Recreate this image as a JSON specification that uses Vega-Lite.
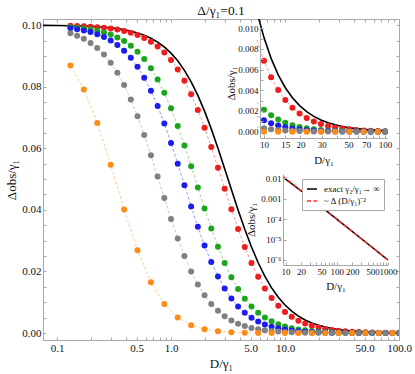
{
  "$schema": "https://vega.github.io/schema/vega-lite/v6.json",
  "width": 356,
  "height": 321,
  "autosize": {"type": "none"},
  "padding": {"left": 43, "top": 19, "right": 16, "bottom": 34},
  "background": "white",
  "title": {"text": "Δ/γ₁=0.1", "fontSize": 13.5, "font": "Liberation Serif", "fontWeight": "normal", "offset": 1, "color": "#111111", "anchor": "middle"},
  "config": {
    "font": "Liberation Serif",
    "view": {"stroke": "#a8a8a8"},
    "axis": {"labelFont": "Liberation Serif", "titleFont": "Liberation Serif", "labelColor": "#111111", "titleColor": "#111111", "titleFontWeight": "normal", "domainColor": "#a8a8a8", "tickColor": "#a8a8a8", "grid": false, "labelFlush": false, "labelOverlap": false},
    "legend": {"labelFont": "Liberation Serif", "labelColor": "#111111"}
  },
  "datasets": {
    "pts": [
      {"s":"inf","D":0.0753,"v":0.09994},{"s":"inf","D":0.1,"v":0.0999},
      {"s":"inf","D":0.1311,"v":0.09983},{"s":"inf","D":0.1501,"v":0.09978},{"s":"inf","D":0.1719,"v":0.09971},{"s":"inf","D":0.1968,"v":0.09961},{"s":"inf","D":0.2254,"v":0.0995},{"s":"inf","D":0.2581,"v":0.09934},{"s":"inf","D":0.2955,"v":0.09913},{"s":"inf","D":0.3384,"v":0.09887},{"s":"inf","D":0.3875,"v":0.09852},{"s":"inf","D":0.4437,"v":0.09807},
      {"s":"inf","D":0.508,"v":0.09748},{"s":"inf","D":0.5817,"v":0.09673},{"s":"inf","D":0.6661,"v":0.09575},{"s":"inf","D":0.7627,"v":0.0945},{"s":"inf","D":0.8733,"v":0.09291},{"s":"inf","D":1,"v":0.09091},{"s":"inf","D":1.145,"v":0.08841},{"s":"inf","D":1.311,"v":0.08533},{"s":"inf","D":1.501,"v":0.08161},{"s":"inf","D":1.719,"v":0.07719},
      {"s":"inf","D":1.968,"v":0.07207},{"s":"inf","D":2.254,"v":0.06631},{"s":"inf","D":2.581,"v":0.06002},{"s":"inf","D":2.955,"v":0.05338},{"s":"inf","D":3.384,"v":0.04662},{"s":"inf","D":3.875,"v":0.03998},{"s":"inf","D":4.437,"v":0.03369},{"s":"inf","D":5.08,"v":0.02793},{"s":"inf","D":5.817,"v":0.02281},{"s":"inf","D":6.661,"v":0.01839},
      {"s":"inf","D":7.627,"v":0.01467},{"s":"inf","D":8.733,"v":0.01159},{"s":"inf","D":10,"v":0.009091},{"s":"inf","D":11.45,"v":0.007087},{"s":"inf","D":13.11,"v":0.005497},{"s":"inf","D":15.01,"v":0.004248},{"s":"inf","D":17.19,"v":0.003273},{"s":"inf","D":19.68,"v":0.002516},{"s":"inf","D":22.54,"v":0.00193},{"s":"inf","D":25.81,"v":0.001479},
      {"s":"inf","D":29.55,"v":0.001132},{"s":"inf","D":33.84,"v":0.0008658},{"s":"inf","D":38.75,"v":0.0006617},{"s":"inf","D":44.37,"v":0.0005055},{"s":"inf","D":50.8,"v":0.000386},{"s":"inf","D":58.17,"v":0.0002947},{"s":"inf","D":66.61,"v":0.0002249},{"s":"inf","D":76.27,"v":0.0001716},{"s":"inf","D":87.33,"v":0.0001309},{"s":"inf","D":100,"v":0.0000999},

      {"s":"100","D":0.1311,"v":0.09978},{"s":"100","D":0.1501,"v":0.09971},{"s":"100","D":0.1719,"v":0.09963},{"s":"100","D":0.1968,"v":0.09951},{"s":"100","D":0.2254,"v":0.09936},{"s":"100","D":0.2581,"v":0.09916},{"s":"100","D":0.2955,"v":0.0989},{"s":"100","D":0.3384,"v":0.09856},{"s":"100","D":0.3875,"v":0.09812},{"s":"100","D":0.4437,"v":0.09755},
      {"s":"100","D":0.508,"v":0.09682},{"s":"100","D":0.5817,"v":0.09586},{"s":"100","D":0.6661,"v":0.09464},{"s":"100","D":0.7627,"v":0.09309},{"s":"100","D":0.8733,"v":0.09112},{"s":"100","D":1,"v":0.08866},{"s":"100","D":1.145,"v":0.08563},{"s":"100","D":1.311,"v":0.08194},{"s":"100","D":1.501,"v":0.07756},{"s":"100","D":1.719,"v":0.07247},
      {"s":"100","D":1.968,"v":0.06671},{"s":"100","D":2.254,"v":0.06041},{"s":"100","D":2.581,"v":0.05372},{"s":"100","D":2.955,"v":0.0469},{"s":"100","D":3.384,"v":0.04018},{"s":"100","D":3.875,"v":0.0338},{"s":"100","D":4.437,"v":0.02795},{"s":"100","D":5.08,"v":0.02275},{"s":"100","D":5.817,"v":0.01827},{"s":"100","D":6.661,"v":0.01449},
      {"s":"100","D":7.627,"v":0.01138},{"s":"100","D":8.733,"v":0.008861},{"s":"100","D":10,"v":0.006849},{"s":"100","D":11.45,"v":0.005263},{"s":"100","D":13.11,"v":0.004022},{"s":"100","D":15.01,"v":0.003061},{"s":"100","D":17.19,"v":0.00232},{"s":"100","D":19.68,"v":0.001752},{"s":"100","D":22.54,"v":0.001319},{"s":"100","D":25.81,"v":0.0009895},
      {"s":"100","D":29.55,"v":0.00074},{"s":"100","D":33.84,"v":0.0005516},{"s":"100","D":38.75,"v":0.0004098},{"s":"100","D":44.37,"v":0.0003034},{"s":"100","D":50.8,"v":0.0002238},{"s":"100","D":58.17,"v":0.0001645},{"s":"100","D":66.61,"v":0.0001204},{"s":"100","D":76.27,"v":0.0000878},{"s":"100","D":87.33,"v":0.0000637},{"s":"100","D":100,"v":0.0000461},

      {"s":"10","D":0.1311,"v":0.09938},{"s":"10","D":0.1501,"v":0.09919},{"s":"10","D":0.1719,"v":0.09894},{"s":"10","D":0.1968,"v":0.09862},{"s":"10","D":0.2254,"v":0.09819},{"s":"10","D":0.2581,"v":0.09764},{"s":"10","D":0.2955,"v":0.09693},{"s":"10","D":0.3384,"v":0.09601},{"s":"10","D":0.3875,"v":0.09482},{"s":"10","D":0.4437,"v":0.09331},
      {"s":"10","D":0.508,"v":0.09139},{"s":"10","D":0.5817,"v":0.08899},{"s":"10","D":0.6661,"v":0.08601},{"s":"10","D":0.7627,"v":0.08238},{"s":"10","D":0.8733,"v":0.07805},{"s":"10","D":1,"v":0.07299},{"s":"10","D":1.145,"v":0.06725},{"s":"10","D":1.311,"v":0.06092},{"s":"10","D":1.501,"v":0.05419},{"s":"10","D":1.719,"v":0.04729},
      {"s":"10","D":1.968,"v":0.04047},{"s":"10","D":2.254,"v":0.03398},{"s":"10","D":2.581,"v":0.02801},{"s":"10","D":2.955,"v":0.02272},{"s":"10","D":3.384,"v":0.01815},{"s":"10","D":3.875,"v":0.01431},{"s":"10","D":4.437,"v":0.01116},{"s":"10","D":5.08,"v":0.008619},{"s":"10","D":5.817,"v":0.006601},{"s":"10","D":6.661,"v":0.005018},
      {"s":"10","D":7.627,"v":0.003791},{"s":"10","D":8.733,"v":0.002848},{"s":"10","D":10,"v":0.002128},{"s":"10","D":11.45,"v":0.001582},{"s":"10","D":13.11,"v":0.001171},{"s":"10","D":15.01,"v":0.0008622},{"s":"10","D":17.19,"v":0.0006322},{"s":"10","D":19.68,"v":0.0004613},{"s":"10","D":22.54,"v":0.0003351},{"s":"10","D":25.81,"v":0.0002423},
      {"s":"10","D":29.55,"v":0.0001744},{"s":"10","D":33.84,"v":0.0001249},{"s":"10","D":38.75,"v":0.000089},{"s":"10","D":44.37,"v":0.0000632},{"s":"10","D":50.8,"v":0.0000446},{"s":"10","D":58.17,"v":0.0000314},{"s":"10","D":66.61,"v":0.000022},{"s":"10","D":76.27,"v":0.0000153},{"s":"10","D":87.33,"v":0.0000106},{"s":"10","D":100,"v":0.0000074},

      {"s":"5","D":0.1311,"v":0.09899},{"s":"5","D":0.1501,"v":0.09868},{"s":"5","D":0.1719,"v":0.09827},{"s":"5","D":0.1968,"v":0.09774},{"s":"5","D":0.2254,"v":0.09706},{"s":"5","D":0.2581,"v":0.09617},{"s":"5","D":0.2955,"v":0.09503},{"s":"5","D":0.3384,"v":0.09357},{"s":"5","D":0.3875,"v":0.09172},{"s":"5","D":0.4437,"v":0.08939},
      {"s":"5","D":0.508,"v":0.08649},{"s":"5","D":0.5817,"v":0.08295},{"s":"5","D":0.6661,"v":0.0787},{"s":"5","D":0.7627,"v":0.07372},{"s":"5","D":0.8733,"v":0.06803},{"s":"5","D":1,"v":0.06173},{"s":"5","D":1.145,"v":0.05499},{"s":"5","D":1.311,"v":0.04803},{"s":"5","D":1.501,"v":0.04113},{"s":"5","D":1.719,"v":0.03453},
      {"s":"5","D":1.968,"v":0.02845},{"s":"5","D":2.254,"v":0.02304},{"s":"5","D":2.581,"v":0.01836},{"s":"5","D":2.955,"v":0.01444},{"s":"5","D":3.384,"v":0.01121},{"s":"5","D":3.875,"v":0.008619},{"s":"5","D":4.437,"v":0.006564},{"s":"5","D":5.08,"v":0.00496},{"s":"5","D":5.817,"v":0.003722},{"s":"5","D":6.661,"v":0.002775},
      {"s":"5","D":7.627,"v":0.002056},{"s":"5","D":8.733,"v":0.001516},{"s":"5","D":10,"v":0.001111},{"s":"5","D":11.45,"v":0.0008104},{"s":"5","D":13.11,"v":0.0005881},{"s":"5","D":15.01,"v":0.0004246},{"s":"5","D":17.19,"v":0.0003051},{"s":"5","D":19.68,"v":0.0002182},{"s":"5","D":22.54,"v":0.0001552},{"s":"5","D":25.81,"v":0.0001099},
      {"s":"5","D":29.55,"v":0.0000775},{"s":"5","D":33.84,"v":0.0000544},{"s":"5","D":38.75,"v":0.000038},{"s":"5","D":44.37,"v":0.0000264},{"s":"5","D":50.8,"v":0.0000183},{"s":"5","D":58.17,"v":0.0000127},{"s":"5","D":66.61,"v":0.0000087},{"s":"5","D":76.27,"v":0.000006},{"s":"5","D":87.33,"v":0.0000041},{"s":"5","D":100,"v":0.0000028},

      {"s":"2","D":0.1311,"v":0.09737},{"s":"2","D":0.1501,"v":0.09658},{"s":"2","D":0.1719,"v":0.09555},{"s":"2","D":0.1968,"v":0.09423},{"s":"2","D":0.2254,"v":0.09255},{"s":"2","D":0.2581,"v":0.09043},{"s":"2","D":0.2955,"v":0.08778},{"s":"2","D":0.3384,"v":0.08451},{"s":"2","D":0.3875,"v":0.08055},{"s":"2","D":0.4437,"v":0.07586},
      {"s":"2","D":0.508,"v":0.07044},{"s":"2","D":0.5817,"v":0.06435},{"s":"2","D":0.6661,"v":0.05774},{"s":"2","D":0.7627,"v":0.05081},{"s":"2","D":0.8733,"v":0.04382},{"s":"2","D":1,"v":0.03704},{"s":"2","D":1.145,"v":0.0307},{"s":"2","D":1.311,"v":0.02498},{"s":"2","D":1.501,"v":0.02},{"s":"2","D":1.719,"v":0.01577},
      {"s":"2","D":1.968,"v":0.01227},{"s":"2","D":2.254,"v":0.009441},{"s":"2","D":2.581,"v":0.007193},{"s":"2","D":2.955,"v":0.005433},{"s":"2","D":3.384,"v":0.004072},{"s":"2","D":3.875,"v":0.003031},{"s":"2","D":4.437,"v":0.002242},{"s":"2","D":5.08,"v":0.001648},{"s":"2","D":5.817,"v":0.001205},{"s":"2","D":6.661,"v":0.0008765},
      {"s":"2","D":7.627,"v":0.0006341},{"s":"2","D":8.733,"v":0.0004564},{"s":"2","D":10,"v":0.0003268},{"s":"2","D":11.45,"v":0.0002329},{"s":"2","D":13.11,"v":0.0001651},{"s":"2","D":15.01,"v":0.0001166},{"s":"2","D":17.19,"v":0.0000819},{"s":"2","D":19.68,"v":0.0000573},{"s":"2","D":22.54,"v":0.0000399},{"s":"2","D":25.81,"v":0.0000277},
      {"s":"2","D":29.55,"v":0.0000191},{"s":"2","D":33.84,"v":0.0000132},{"s":"2","D":38.75,"v":0.000009},{"s":"2","D":44.37,"v":0.0000062},{"s":"2","D":50.8,"v":0.0000042},{"s":"2","D":58.17,"v":0.0000029},{"s":"2","D":66.61,"v":0.000002},{"s":"2","D":76.27,"v":0.0000013},{"s":"2","D":87.33,"v":0.0000009},{"s":"2","D":100,"v":0.0000006},

      {"s":"0.5","D":0.1311,"v":0.08693},{"s":"0.5","D":0.1719,"v":0.07913},{"s":"0.5","D":0.2254,"v":0.06824},{"s":"0.5","D":0.2955,"v":0.05469},{"s":"0.5","D":0.3875,"v":0.04015},{"s":"0.5","D":0.508,"v":0.02688},{"s":"0.5","D":0.6661,"v":0.01651},{"s":"0.5","D":0.8733,"v":0.009419},{"s":"0.5","D":1.145,"v":0.005046},{"s":"0.5","D":1.501,"v":0.002557},
      {"s":"0.5","D":1.968,"v":0.00123},{"s":"0.5","D":2.581,"v":0.000563},{"s":"0.5","D":3.384,"v":0.0002456},{"s":"0.5","D":4.437,"v":0.0001024},{"s":"0.5","D":5.817,"v":0.000041},{"s":"0.5","D":7.627,"v":0.0000158},{"s":"0.5","D":10,"v":0.0000059},{"s":"0.5","D":13.11,"v":0.0000022},{"s":"0.5","D":17.19,"v":0.0000008},{"s":"0.5","D":22.54,"v":0.0000003},
      {"s":"0.5","D":29.55,"v":0.0000001},{"s":"0.5","D":38.75,"v":0.00000003},{"s":"0.5","D":50.8,"v":0.00000001},{"s":"0.5","D":66.61,"v":0.000000004},{"s":"0.5","D":87.33,"v":0.000000002}
    ],
    "asym": [
      {"c":"exact γ₂/γ₁→ ∞","D":8.9,"v":0.011209},{"c":"exact γ₂/γ₁→ ∞","D":10,"v":0.0090909},{"c":"exact γ₂/γ₁→ ∞","D":20,"v":0.002439},{"c":"exact γ₂/γ₁→ ∞","D":50,"v":0.00039841},{"c":"exact γ₂/γ₁→ ∞","D":100,"v":0.0000999},{"c":"exact γ₂/γ₁→ ∞","D":200,"v":0.000024994},{"c":"exact γ₂/γ₁→ ∞","D":500,"v":0.0000039998},{"c":"exact γ₂/γ₁→ ∞","D":1000,"v":0.00000099999},
      {"c":"~ Δ (D/γ₁)⁻²","D":8.9,"v":0.012625},{"c":"~ Δ (D/γ₁)⁻²","D":10,"v":0.01},{"c":"~ Δ (D/γ₁)⁻²","D":20,"v":0.0025},{"c":"~ Δ (D/γ₁)⁻²","D":50,"v":0.0004},{"c":"~ Δ (D/γ₁)⁻²","D":100,"v":0.0001},{"c":"~ Δ (D/γ₁)⁻²","D":200,"v":0.000025},{"c":"~ Δ (D/γ₁)⁻²","D":500,"v":0.000004},{"c":"~ Δ (D/γ₁)⁻²","D":1000,"v":0.000001}
    ]
  },
  "layer": [
    {
      "data": {"name": "pts"},
      "encoding": {
        "x": {"field": "D", "type": "quantitative",
          "scale": {"type": "log", "domain": [0.0753, 100], "nice": false},
          "axis": {"orient": "bottom", "title": "D/γ₁", "titleFontSize": 13, "titlePadding": 4, "labelFontSize": 11,
            "values": [0.1,0.2,0.3,0.4,0.5,0.6,0.7,0.8,0.9,1,2,3,4,5,6,7,8,9,10,20,30,40,50,60,70,80,90,100],
            "labelExpr": "indexof([0.1,0.5,1,5,10,50,100], datum.value) >= 0 ? format(datum.value, '.1f') : ''",
            "tickSize": -3, "labelPadding": 5}},
        "y": {"field": "v", "type": "quantitative",
          "scale": {"domain": [-0.00227, 0.102], "nice": false, "zero": false},
          "axis": {"orient": "left", "title": "Δobs/γ₁", "titleFontSize": 13, "titlePadding": 3, "labelFontSize": 11,
            "values": [0,0.005,0.01,0.015,0.02,0.025,0.03,0.035,0.04,0.045,0.05,0.055,0.06,0.065,0.07,0.075,0.08,0.085,0.09,0.095,0.1],
            "labelExpr": "round(datum.value*1000) % 20 == 0 ? format(datum.value, '.2f') : ''",
            "tickSize": -3, "labelPadding": 5}}
      },
      "layer": [
        {"transform": [{"filter": "datum.s == 'inf'"}],
         "mark": {"type": "line", "color": "#000000", "strokeWidth": 1.6, "clip": true},
         "encoding": {}},
        {"transform": [{"filter": "datum.s != 'inf'"}],
         "mark": {"type": "line", "strokeWidth": 0.8, "strokeDash": [3, 2], "opacity": 0.55, "clip": true},
         "encoding": {"color": {"field": "s", "type": "nominal", "legend": null,
           "scale": {"domain": ["inf","100","10","5","2","0.5"], "range": ["#000000","#ee1c1c","#1ca51c","#1c1cee","#808080","#ff8a14"]}}}},
        {"transform": [{"filter": "datum.s != 'inf'"}],
         "mark": {"type": "point", "filled": true, "size": 36, "opacity": 1, "clip": true},
         "encoding": {"color": {"field": "s", "type": "nominal", "legend": null,
           "scale": {"domain": ["inf","100","10","5","2","0.5"], "range": ["#000000","#ee1c1c","#1ca51c","#1c1cee","#808080","#ff8a14"]}}}},
        {"transform": [{"filter": "datum.D < 0"}],
         "mark": {"type": "point", "filled": true, "opacity": 1},
         "encoding": {
           "color": {"field": "s", "type": "nominal",
             "scale": {"domain": ["inf","100","10","5","2","0.5"], "range": ["#000000","#ee1c1c","#1ca51c","#1c1cee","#808080","#ff8a14"]},
             "legend": {"title": null, "orient": "none", "legendX": 15, "legendY": 210, "padding": 0, "labelFontSize": 10, "symbolSize": 225, "symbolStrokeWidth": 1.5, "symbolOpacity": 1, "rowPadding": 1.7, "labelOffset": 8,
               "labelExpr": "datum.label == 'inf' ? 'γ₂/γ₁→ ∞' : 'γ₂/γ₁=' + datum.label",
               "encode": {"symbols": {"update": {"stroke": {"scale": "color", "field": "value"}, "strokeWidth": {"value": 1.5}}}}}},
           "shape": {"field": "s", "type": "nominal",
             "scale": {"domain": ["inf","100","10","5","2","0.5"], "range": ["M-1,0L1,0", "M-1,0L1,0M0.45,0A0.45,0.45,0,1,1,-0.45,0A0.45,0.45,0,1,1,0.45,0Z", "M-1,0L1,0M0.45,0A0.45,0.45,0,1,1,-0.45,0A0.45,0.45,0,1,1,0.45,0Z", "M-1,0L1,0M0.45,0A0.45,0.45,0,1,1,-0.45,0A0.45,0.45,0,1,1,0.45,0Z", "M-1,0L1,0M0.45,0A0.45,0.45,0,1,1,-0.45,0A0.45,0.45,0,1,1,0.45,0Z", "M-1,0L1,0M0.45,0A0.45,0.45,0,1,1,-0.45,0A0.45,0.45,0,1,1,0.45,0Z"]},
             "legend": {"title": null, "orient": "none", "legendX": 15, "legendY": 210, "padding": 0, "labelFontSize": 10, "symbolSize": 225, "symbolStrokeWidth": 1.5, "symbolOpacity": 1, "rowPadding": 1.7, "labelOffset": 8,
               "labelExpr": "datum.label == 'inf' ? 'γ₂/γ₁→ ∞' : 'γ₂/γ₁=' + datum.label",
               "encode": {"symbols": {"update": {"stroke": {"scale": "color", "field": "value"}, "strokeWidth": {"value": 1.5}}}}}}
         }}
      ]
    },
    {
      "data": {"name": "pts"},
      "transform": [{"filter": "datum.D < 0"}],
      "mark": {"type": "point", "opacity": 0},
      "encoding": {
        "x": {"field": "D", "type": "quantitative",
          "scale": {"type": "log", "domain": [0.0753, 100], "nice": false},
          "axis": {"orient": "top", "title": null, "labels": false, "domain": false,
            "values": [0.1,0.2,0.3,0.4,0.5,0.6,0.7,0.8,0.9,1,2,3,4,5,6,7,8,9,10,20,30,40,50,60,70,80,90,100],
            "tickSize": -3}},
        "y": {"field": "v", "type": "quantitative",
          "scale": {"domain": [-0.00227, 0.102], "nice": false, "zero": false},
          "axis": {"orient": "right", "title": null, "labels": false, "domain": false,
            "values": [0,0.005,0.01,0.015,0.02,0.025,0.03,0.035,0.04,0.045,0.05,0.055,0.06,0.065,0.07,0.075,0.08,0.085,0.09,0.095,0.1],
            "tickSize": -3}}
      }
    },
    {
      "data": {"name": "pts"},
      "encoding": {
        "x": {"field": "D", "type": "quantitative",
          "scale": {"type": "log", "domain": [9.27, 103.9], "range": [217, 344], "nice": false},
          "axis": {"orient": "bottom", "offset": -202, "zindex": 1, "title": "D/γ₁", "titleFontSize": 11, "titlePadding": 5, "labelFontSize": 9,
            "values": [10,15,20,30,40,50,60,70,80,90,100],
            "labelExpr": "indexof([10,15,20,30,50,70,100], datum.value) >= 0 ? format(datum.value, 'd') : ''",
            "tickSize": -3, "labelPadding": 5}},
        "y": {"field": "v", "type": "quantitative",
          "scale": {"domain": [-0.00061, 0.01002], "range": [119, 9], "nice": false, "zero": false},
          "axis": {"orient": "left", "offset": -217, "zindex": 1, "title": "Δobs/γ₁", "titleFontSize": 11, "titlePadding": 1, "labelFontSize": 9,
            "values": [0,0.001,0.002,0.003,0.004,0.005,0.006,0.007,0.008,0.009,0.01],
            "labelExpr": "round(datum.value*10000) % 20 == 0 ? format(datum.value, '.3f') : ''",
            "tickSize": -3, "labelPadding": 5}}
      },
      "layer": [
        {"data": {"values": [{}]},
         "mark": {"type": "rect", "fill": "white", "stroke": "#a8a8a8", "strokeWidth": 1},
         "encoding": {"x": {"datum": 9.27, "type": "quantitative"}, "x2": {"datum": 103.9}, "y": {"datum": -0.00061, "type": "quantitative"}, "y2": {"datum": 0.01002}}},
        {"transform": [{"filter": "datum.s == 'inf' && datum.D > 8"}],
         "mark": {"type": "line", "color": "#000000", "strokeWidth": 1.6, "clip": true},
         "encoding": {}},
        {"transform": [{"filter": "datum.s != 'inf' && datum.D > 8"}],
         "mark": {"type": "line", "strokeWidth": 0.8, "strokeDash": [3, 2], "opacity": 0.55, "clip": true},
         "encoding": {"color": {"field": "s", "type": "nominal", "legend": null,
           "scale": {"domain": ["inf","100","10","5","2","0.5"], "range": ["#000000","#ee1c1c","#1ca51c","#1c1cee","#808080","#ff8a14"]}}}},
        {"transform": [{"filter": "datum.s != 'inf' && datum.D > 9"}],
         "mark": {"type": "point", "filled": true, "size": 36, "opacity": 1, "clip": true},
         "encoding": {"color": {"field": "s", "type": "nominal", "legend": null,
           "scale": {"domain": ["inf","100","10","5","2","0.5"], "range": ["#000000","#ee1c1c","#1ca51c","#1c1cee","#808080","#ff8a14"]}}}}
      ]
    },
    {
      "data": {"name": "asym"},
      "encoding": {
        "x": {"field": "D", "type": "quantitative",
          "scale": {"type": "log", "domain": [8.9, 1000], "range": [240, 345], "nice": false},
          "axis": {"orient": "bottom", "offset": -75, "zindex": 1, "title": "D/γ₁", "titleFontSize": 11, "titlePadding": 4, "labelFontSize": 9,
            "values": [10,20,30,40,50,60,70,80,90,100,200,300,400,500,600,700,800,900,1000],
            "labelExpr": "indexof([10,20,50,100,200,500,1000], datum.value) >= 0 ? format(datum.value, 'd') : ''",
            "tickSize": -3, "labelPadding": 5}},
        "y": {"field": "v", "type": "quantitative",
          "scale": {"type": "log", "domain": [0.000000569, 0.01625], "range": [246, 155], "nice": false},
          "axis": {"orient": "left", "offset": -240, "zindex": 1, "title": "Δobs/γ₁", "titleFontSize": 11, "titlePadding": 4, "labelFontSize": 9,
            "values": [0.000001, 0.00001, 0.0001, 0.001, 0.01],
            "labelExpr": "datum.value > 0.005 ? '0.01' : datum.value > 0.0005 ? '0.001' : datum.value > 0.00005 ? '10⁻⁴' : datum.value > 0.000005 ? '10⁻⁵' : '10⁻⁶'",
            "tickSize": -3, "labelPadding": 5}}
      },
      "layer": [
        {"data": {"values": [{}]},
         "mark": {"type": "rect", "fill": "white", "stroke": "#a8a8a8", "strokeWidth": 1},
         "encoding": {"x": {"datum": 8.9, "type": "quantitative"}, "x2": {"datum": 1000}, "y": {"datum": 0.000000569, "type": "quantitative"}, "y2": {"datum": 0.01625}}},
        {"mark": {"type": "line", "strokeWidth": 1.5, "clip": true},
         "encoding": {
           "stroke": {"field": "c", "type": "nominal",
             "scale": {"domain": ["exact γ₂/γ₁→ ∞", "~ Δ (D/γ₁)⁻²"], "range": ["#000000", "#ff2a2a"]},
             "legend": {"title": null, "orient": "none", "legendX": 259, "legendY": 160, "strokeColor": "#a8a8a8", "fillColor": "white", "padding": 4, "labelFontSize": 9, "symbolType": "stroke", "symbolSize": 100, "symbolStrokeWidth": 1.5, "rowPadding": 1, "labelOffset": 6}},
           "strokeDash": {"field": "c", "type": "nominal",
             "scale": {"domain": ["exact γ₂/γ₁→ ∞", "~ Δ (D/γ₁)⁻²"], "range": [[1, 0], [4, 2.5]]},
             "legend": {"title": null, "orient": "none", "legendX": 259, "legendY": 160, "strokeColor": "#a8a8a8", "fillColor": "white", "padding": 4, "labelFontSize": 9, "symbolType": "stroke", "symbolSize": 100, "symbolStrokeWidth": 1.5, "rowPadding": 1, "labelOffset": 6}}
         }}
      ]
    }
  ],
  "resolve": {"scale": {"x": "independent", "y": "independent"}, "axis": {"x": "independent", "y": "independent"}}
}
